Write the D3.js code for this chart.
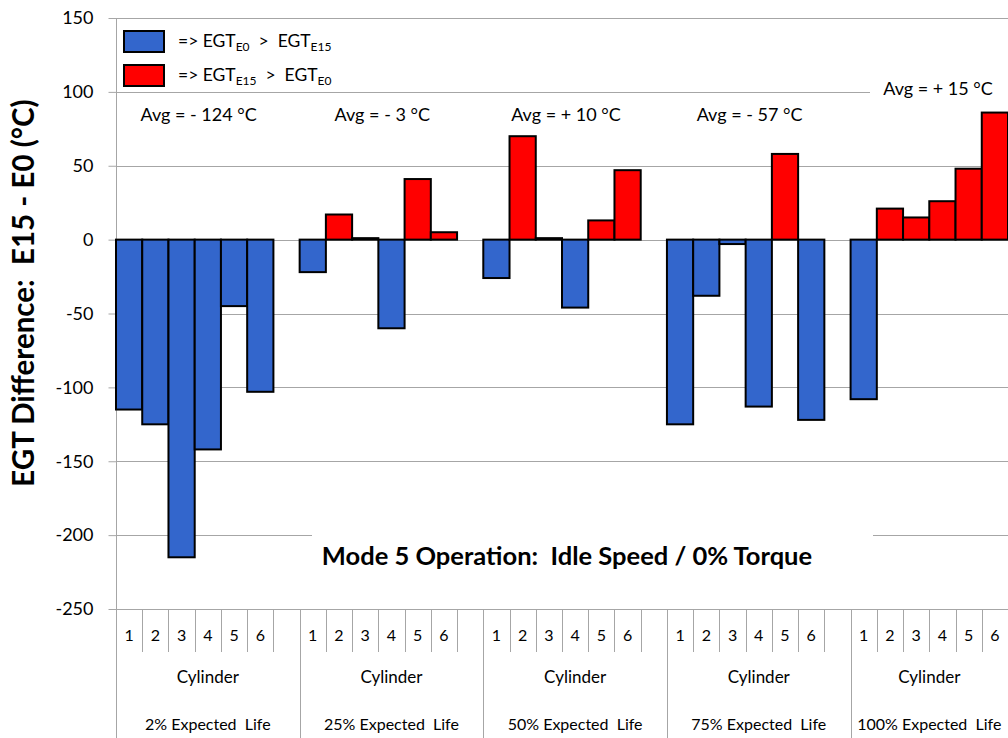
<!DOCTYPE html>
<html>
<head>
<meta charset="utf-8">
<script src="https://cdn.jsdelivr.net/npm/d3@7"></script>
<style>
  html, body { margin: 0; padding: 0; background: #fff; }
  svg { display: block; }
  text { font-family: Lato, "Open Sans", "Noto Sans", sans-serif; fill: #000; white-space: pre; }
</style>
</head>
<body>
<svg id="chart" width="1008" height="738"></svg>
<script>
// ---- data ----
const groups = ["2% Expected  Life", "25% Expected  Life", "50% Expected  Life", "75% Expected  Life", "100% Expected  Life"];
const cylinders = ["1", "2", "3", "4", "5", "6"];
const life2 = [-115, -125, -215, -142, -45, -103];
const life25 = [-22, 17, 1, -60, 41, 5];
const life50 = [-26, 70, 1, -46, 13, 47];
const life75 = [-125, -38, -3, -113, 58, -122];
const life100 = [-108, 21, 15, 26, 48, 86];
const averages = ["Avg = - 124 °C", "Avg = - 3 °C", "Avg = + 10 °C", "Avg = - 57 °C", "Avg = + 15 °C"];
const yTicks = [-250, -200, -150, -100, -50, 0, 50, 100, 150];
const subLabel = "Cylinder";
const title = "Mode 5 Operation:  Idle Speed / 0% Torque";
const yTitle = "EGT Difference:  E15 - E0 (°C)";

const seriesByGroup = [life2, life25, life50, life75, life100];

// ---- layout ----
const svg = d3.select("#chart");
const L = 116, R = 1008, T = 18, B = 609;
const BLUE = "#3366CC", RED = "#FF0000", GRID = "#A6A6A6";

// slots: groups 1-4 have 6 cylinders + 1 spacer; last group has 6
const slots = [];
groups.forEach((g, gi) => {
  const n = gi < groups.length - 1 ? 7 : 6;
  for (let s = 0; s < n; s++) slots.push({ id: gi + "-" + s, gi, s });
});
const x = d3.scaleBand().domain(slots.map(d => d.id)).range([L, R]).padding(0);
const y = d3.scaleLinear().domain([-250, 150]).range([B, T]);

const bars = [];
seriesByGroup.forEach((vals, gi) => vals.forEach((v, i) => bars.push({ id: gi + "-" + i, v })));

// gridlines
svg.append("g").selectAll("line").data(yTicks).join("line")
  .attr("x1", L).attr("x2", R)
  .attr("y1", d => Math.round(y(d)) + 0.5).attr("y2", d => Math.round(y(d)) + 0.5)
  .attr("stroke", GRID).attr("stroke-width", 1);

// y axis
const yAxis = d3.axisLeft(y).tickValues(yTicks).tickSize(8).tickPadding(15).tickFormat(d => String(d));
const ya = svg.append("g").attr("transform", `translate(${L + 0.5},0)`).call(yAxis);
ya.select(".domain").remove();
ya.selectAll(".tick line").attr("stroke", GRID);
ya.selectAll(".tick text").style("font-size", "18px").style("font-family", "Lato, sans-serif").attr("fill", "#000");
svg.append("line").attr("x1", L + 0.5).attr("x2", L + 0.5).attr("y1", T).attr("y2", 738)
  .attr("stroke", GRID);

// title white box and text (covers grid)
svg.append("rect").attr("x", 312).attr("y", 520).attr("width", 561).attr("height", 72).attr("fill", "#fff");
svg.append("text").attr("x", 567).attr("y", 565).attr("text-anchor", "middle")
  .style("font-size", "25.5px").style("font-weight", "bold").text(title);

// bars
svg.append("g").selectAll("rect").data(bars).join("rect")
  .attr("x", d => x(d.id))
  .attr("width", x.bandwidth())
  .attr("y", d => y(Math.max(0, d.v)))
  .attr("height", d => Math.abs(y(d.v) - y(0)))
  .attr("fill", d => d.v >= 0 ? RED : BLUE)
  .attr("stroke", "#000").attr("stroke-width", 2);

// x axis (multi-level)
svg.append("line").attr("x1", L).attr("x2", R).attr("y1", B + 0.5).attr("y2", B + 0.5).attr("stroke", GRID);
const xa = svg.append("g");
slots.forEach((d) => {
  const x0 = x(d.id);
  const isGroupStart = d.s === 0;
  xa.append("line").attr("x1", Math.round(x0) + 0.5).attr("x2", Math.round(x0) + 0.5)
    .attr("y1", B).attr("y2", isGroupStart ? 738 : 652).attr("stroke", GRID);
  if (d.s < 6) {
    xa.append("text").attr("x", x0 + x.bandwidth() / 2).attr("y", 641)
      .attr("text-anchor", "middle").style("font-size", "16px").text(cylinders[d.s]);
  }
});
groups.forEach((g, gi) => {
  const gs = slots.filter(d => d.gi === gi);
  const x0 = x(gs[0].id), x1 = x(gs[gs.length - 1].id) + x.bandwidth();
  const cx = (x0 + x1) / 2;
  xa.append("text").attr("x", cx).attr("y", 683).attr("text-anchor", "middle")
    .style("font-size", "17px").text(subLabel);
  xa.append("text").attr("x", cx).attr("y", 730).attr("text-anchor", "middle")
    .style("font-size", "16px").text(g);
});

// average labels
groups.forEach((g, gi) => {
  const gs = slots.filter(d => d.gi === gi);
  const x0 = x(gs[0].id);
  const last = gi === groups.length - 1;
  const cx = last ? 938 : x0 + 7 * x.bandwidth() * 0.45;
  const yy = last ? 95 : 121;
  if (last) {
    svg.append("rect").attr("x", 870).attr("y", 76).attr("width", 138).attr("height", 26).attr("fill", "#fff");
  }
  svg.append("text").attr("x", cx).attr("y", yy).attr("text-anchor", "middle")
    .style("font-size", "18px").text(averages[gi]);
});

// legend
const leg = svg.append("g");
[[BLUE, "E0", "E15", 31], [RED, "E15", "E0", 65]].forEach(([c, a, b, yy]) => {
  leg.append("rect").attr("x", 124).attr("y", yy).attr("width", 40).attr("height", 21)
    .attr("fill", c).attr("stroke", "#000").attr("stroke-width", 2);
  const t = leg.append("text").attr("x", 178).attr("y", yy + 16).style("font-size", "17.5px");
  t.append("tspan").text("=> EGT");
  t.append("tspan").attr("dy", 4).style("font-size", "12px").text(a);
  t.append("tspan").attr("dy", -4).text("  >  EGT");
  t.append("tspan").attr("dy", 4).style("font-size", "12px").text(b);
});

// y title
svg.append("text").attr("transform", "translate(34,293) rotate(-90)")
  .attr("text-anchor", "middle").style("font-size", "29.5px").style("font-weight", "bold")
  .text(yTitle);
</script>
</body>
</html>
